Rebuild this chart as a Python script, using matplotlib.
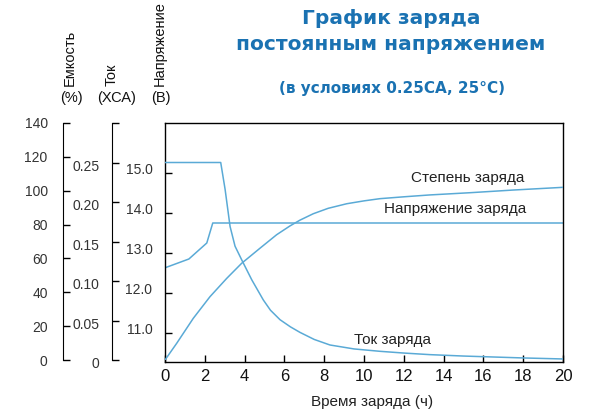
import matplotlib
matplotlib.use("Agg")
import matplotlib.pyplot as plt
import matplotlib.transforms as mtransforms

plt.rcParams['font.family'] = ['Liberation Sans', 'DejaVu Sans']

# ---- data ----
hours_ticks = [0, 2, 4, 6, 8, 10, 12, 14, 16, 18, 20]
volt_ticks = [11.0, 12.0, 13.0, 14.0, 15.0]
cap_ticks = [0, 20, 40, 60, 80, 100, 120, 140]
cur_ticks = [0, 0.05, 0.10, 0.15, 0.20, 0.25, 0.30]
cur_tick_labels = ['0', '0.05', '0.10', '0.15', '0.20', '0.25', '']

volt_t = [0, 1.2, 2.1, 2.4, 20]
volt_v = [12.63, 12.85, 13.25, 13.75, 13.75]

cur_t = [0, 2.8, 3.02, 3.27, 3.52, 3.85, 4.36, 4.94, 5.3, 5.78, 6.3, 6.78, 7.5, 8.29, 9.5, 10.8, 12.0, 13.3, 15.0, 16.5, 18.0, 20.0]
cur_v = [0.25, 0.25, 0.216, 0.169, 0.144, 0.127, 0.1015, 0.076, 0.063, 0.051, 0.042, 0.035, 0.026, 0.019, 0.014, 0.011, 0.0088, 0.0068, 0.005, 0.0038, 0.0026, 0.0013]

cap_t = [0, 0.59, 1.42, 2.26, 3.10, 3.85, 4.77, 5.61, 6.28, 6.78, 7.45, 8.2, 9.13, 10.0, 10.8, 12.0, 13.3, 15.3, 17.5, 20.0]
cap_v = [0, 9.9, 24.6, 37.4, 48.2, 57.1, 66, 74, 79.2, 82.6, 86.4, 89.6, 92.3, 94.0, 95.3, 96.4, 97.5, 98.8, 100.4, 102]

line_color = '#5aaad6'
title_color = '#1a72b2'

W, H = 593, 412
fig = plt.figure(figsize=(W / 100, H / 100), dpi=100)

def fx(px):
    return px / W

def fy(py):
    return 1 - py / H

L, R, T, B = 165, 563, 123, 362
ax = fig.add_axes([fx(L), fy(B), fx(R - L), fy(T) - fy(B)])
ax.set_xlim(0, 20)
ax.set_ylim(10.275, 16.25)
ax.set_xticks(hours_ticks)
ax.set_xticklabels([str(h) for h in hours_ticks], fontsize=12, color='#111111')
ax.set_yticks(volt_ticks)
ax.set_yticklabels(['%.1f' % v for v in volt_ticks], fontsize=10, color='#333333')
ax.tick_params(axis='both', direction='in', length=5, width=1)
ax.tick_params(axis='y', pad=9)
ax.tick_params(axis='x', pad=5)
for lab in ax.get_yticklabels():
    lab.set_transform(lab.get_transform() + mtransforms.ScaledTranslation(0, 3 / 72, fig.dpi_scale_trans))
for s in ax.spines.values():
    s.set_linewidth(1)
ax.plot(volt_t, volt_v, color=line_color, lw=1.1)

# capacity axis
cap_B = 360
ax_cap = fig.add_axes([fx(L), fy(cap_B), fx(R - L), fy(T) - fy(cap_B)])
ax_cap.patch.set_visible(False)
ax_cap.set_xlim(0, 20)
ax_cap.set_ylim(0, 140)
for k in ['top', 'right', 'bottom']:
    ax_cap.spines[k].set_visible(False)
ax_cap.spines['left'].set_position(('axes', (63 - L) / (R - L)))
ax_cap.set_xticks([])
ax_cap.set_yticks(cap_ticks)
ax_cap.set_yticklabels([str(c) for c in cap_ticks], fontsize=10, color='#333333')
ax_cap.tick_params(axis='y', direction='in', length=5, width=1, pad=11)
ax_cap.plot(cap_t, cap_v, color=line_color, lw=1.1)

# current axis
ax_cur = fig.add_axes([fx(L), fy(cap_B), fx(R - L), fy(T) - fy(cap_B)])
ax_cur.patch.set_visible(False)
ax_cur.set_xlim(0, 20)
ax_cur.set_ylim(0, 0.30)
for k in ['top', 'right', 'bottom']:
    ax_cur.spines[k].set_visible(False)
ax_cur.spines['left'].set_position(('axes', (112 - L) / (R - L)))
ax_cur.set_xticks([])
ax_cur.set_yticks(cur_ticks)
ax_cur.set_yticklabels(cur_tick_labels, fontsize=10, color='#333333')
ax_cur.tick_params(axis='y', direction='in', length=5, width=1, pad=9)
for lab in ax_cur.get_yticklabels():
    lab.set_transform(lab.get_transform() + mtransforms.ScaledTranslation(0, -2 / 72, fig.dpi_scale_trans))
ax_cur.plot(cur_t, cur_v, color=line_color, lw=1.1)

# curve labels
fig.text(fx(468), fy(178), 'Степень заряда', fontsize=11, ha='center', va='center', color='#222222')
fig.text(fx(455), fy(209), 'Напряжение заряда', fontsize=11, ha='center', va='center', color='#222222')
fig.text(fx(393), fy(340), 'Ток заряда', fontsize=11, ha='center', va='center', color='#222222')
fig.text(fx(372), fy(402), 'Время заряда (ч)', fontsize=11, ha='center', va='center', color='#222222')

# titles
fig.text(fx(391), fy(19), 'График заряда', fontsize=14.5, fontweight='bold', family='DejaVu Sans',
         ha='center', va='center', color=title_color)
fig.text(fx(391), fy(45), 'постоянным напряжением', fontsize=14.5, fontweight='bold', family='DejaVu Sans',
         ha='center', va='center', color=title_color)
fig.text(fx(392), fy(89), '(в условиях 0.25CA, 25°C)', fontsize=11, fontweight='bold', family='DejaVu Sans',
         ha='center', va='center', color=title_color)

# axis titles
fig.text(fx(70), fy(86), 'Емкость', fontsize=10.5, rotation=90, ha='center', va='bottom', color='#111111')
fig.text(fx(71), fy(98), '(%)', fontsize=10.5, ha='center', va='center', color='#111111')
fig.text(fx(112), fy(86), 'Ток', fontsize=10.5, rotation=90, ha='center', va='bottom', color='#111111')
fig.text(fx(117), fy(98), '(ХСА)', fontsize=10.5, ha='center', va='center', color='#111111')
fig.text(fx(160), fy(86), 'Напряжение', fontsize=10.5, rotation=90, ha='center', va='bottom', color='#111111')
fig.text(fx(161), fy(98), '(В)', fontsize=10.5, ha='center', va='center', color='#111111')

fig.savefig('out.png', dpi=100)
